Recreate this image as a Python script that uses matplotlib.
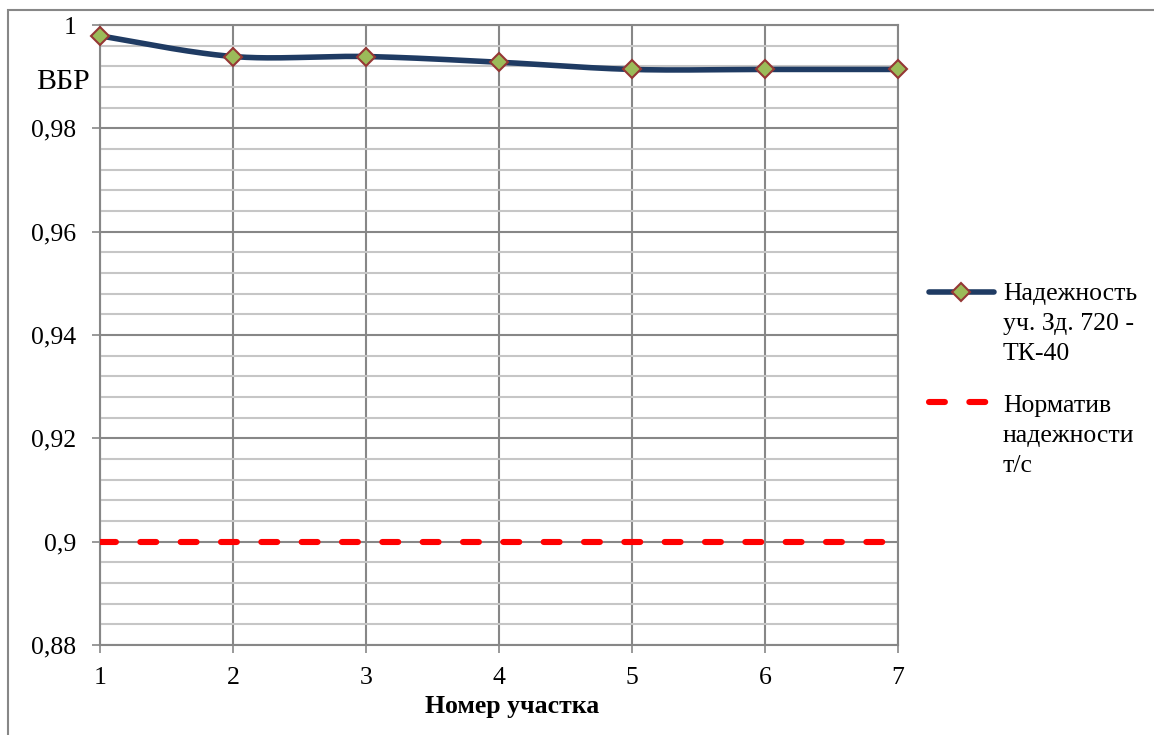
import numpy as np
import matplotlib.pyplot as plt
from matplotlib.lines import Line2D
from matplotlib.patches import Rectangle
from matplotlib.ticker import MultipleLocator, FuncFormatter

plt.rcParams["font.family"] = ["Liberation Serif", "DejaVu Serif"]

# section numbers and reliability (probability of failure-free operation)
SECTIONS = [1, 2, 3, 4, 5, 6, 7]
RELIABILITY = [0.9979, 0.9939, 0.9939, 0.9928, 0.9914, 0.9914, 0.9914]
NORM = [0.9, 0.9, 0.9, 0.9, 0.9, 0.9, 0.9]

SERIES_LINES = ["Надежность", "уч. Зд. 720 -", "ТК-40"]
NORM_LINES = ["Норматив", "надежности", "т/с"]
Y_TITLE = "ВБР"
X_TITLE = "Номер участка"

W, H = 1154, 735
NAVY = "#1f3b63"
GRID_DARK = "#878787"
GRID_LIGHT = "#c6c6c6"
NORM_DASH = (2.6, 4.0)


def smooth(xs, ys, n=40):
    # piecewise cubic Bezier through the points, spreadsheet-style smoothing
    x = np.asarray(xs, dtype=float)
    y = np.asarray(ys, dtype=float)
    px = np.concatenate([[x[0]], x, [x[-1]]])
    py = np.concatenate([[y[0]], y, [y[-1]]])
    t = np.linspace(0, 1, n)[:, None]
    out = []
    for i in range(len(x) - 1):
        p0 = np.array([px[i], py[i]])
        p1 = np.array([px[i + 1], py[i + 1]])
        p2 = np.array([px[i + 2], py[i + 2]])
        p3 = np.array([px[i + 3], py[i + 3]])
        c1 = p1 + (p2 - p0) / 6
        c2 = p2 - (p3 - p1) / 6
        seg = ((1 - t) ** 3) * p1 + 3 * ((1 - t) ** 2) * t * c1 \
            + 3 * (1 - t) * t ** 2 * c2 + t ** 3 * p2
        out.append(seg)
    pts = np.vstack(out)
    return pts[:, 0], pts[:, 1]


def fx(px):
    return px / W


def fy(py):
    return 1 - py / H


def main() -> None:
    fig = plt.figure(figsize=(W / 100, H / 100), dpi=100)
    ax = fig.add_axes([fx(100), 1 - 645 / H, 798 / W, 620 / H])

    ax.set_xlim(1, 7)
    ax.set_ylim(0.88, 1.0)
    ax.set_xticks(SECTIONS)
    ax.yaxis.set_major_locator(MultipleLocator(0.02))
    ax.yaxis.set_minor_locator(MultipleLocator(0.004))
    ax.yaxis.set_major_formatter(
        FuncFormatter(lambda v, _: f"{v:.2f}".rstrip("0").rstrip(".").replace(".", ","))
    )

    ax.set_axisbelow(True)
    ax.grid(which="major", axis="both", color=GRID_DARK, lw=1.5)
    ax.grid(which="minor", axis="y", color=GRID_LIGHT, lw=1.5)
    for sp in ax.spines.values():
        sp.set_color(GRID_DARK)
        sp.set_linewidth(1.5)

    ax.tick_params(axis="both", which="major", length=6, width=1.2,
                   color=GRID_DARK, labelsize=18.5)
    ax.tick_params(axis="y", which="major", pad=11)
    ax.tick_params(axis="x", which="major", pad=10)
    ax.tick_params(which="minor", length=0)

    # reliability norm
    ax.plot(SECTIONS, NORM, color="#ff0000", lw=4.4, dashes=NORM_DASH,
            dash_capstyle="round", zorder=3)

    # reliability of the section
    sx, sy = smooth(SECTIONS, RELIABILITY)
    ax.plot(sx, sy, color=NAVY, lw=4, solid_capstyle="round", zorder=4,
            clip_on=False)
    ax.plot(SECTIONS, RELIABILITY, ls="none", marker="D", ms=9.5,
            mfc="#9bbb59", mec="#953735", mew=1.5, zorder=5, clip_on=False)

    # axis titles
    fig.text(fx(63), fy(89), Y_TITLE, ha="center", va="baseline", fontsize=21.5)
    fig.text(fx(512), fy(713), X_TITLE, ha="center", va="baseline",
             fontsize=18.5, fontweight="bold")

    # legend, drawn by hand
    fig.add_artist(Line2D([fx(929), fx(994)], [fy(292)] * 2, color=NAVY, lw=4,
                          solid_capstyle="round", transform=fig.transFigure))
    fig.add_artist(Line2D([fx(961)], [fy(292)], ls="none", marker="D", ms=9.5,
                          mfc="#9bbb59", mec="#953735", mew=1.5,
                          transform=fig.transFigure))
    fig.add_artist(Line2D([fx(929), fx(988)], [fy(402)] * 2, color="#ff0000",
                          lw=4.4, dashes=NORM_DASH, dash_capstyle="round",
                          transform=fig.transFigure))
    for i, line in enumerate(SERIES_LINES):
        fig.text(fx(1003), fy(300 + 30 * i), line, ha="left", va="baseline",
                 fontsize=18.5)
    for i, line in enumerate(NORM_LINES):
        fig.text(fx(1003), fy(412 + 30 * i), line, ha="left", va="baseline",
                 fontsize=18.5)

    # chart area border
    fig.add_artist(Rectangle((fx(7.5), -0.1), 1.2, fy(9.5) + 0.1, fill=False,
                             ec=GRID_DARK, lw=1.5, transform=fig.transFigure))

    fig.savefig("out.png", dpi=100, facecolor="white")


if __name__ == "__main__":
    main()
